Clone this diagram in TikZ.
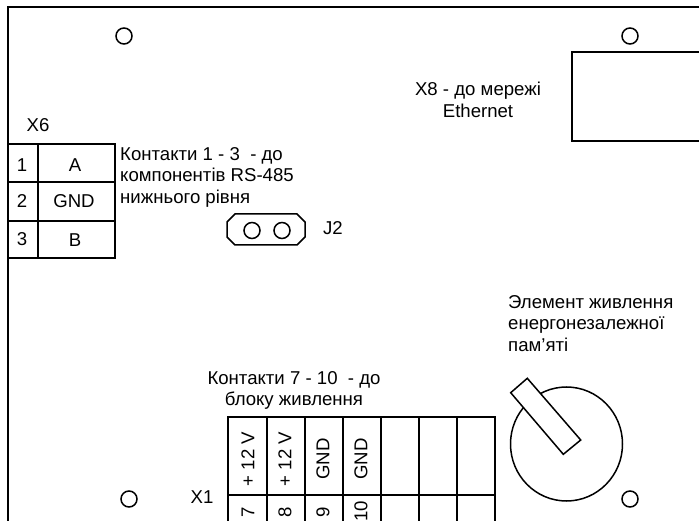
\documentclass[tikz,border=0pt]{standalone}
\usepackage{fontspec}
\setmainfont{Liberation Sans}
\tikzset{
  ln/.style={draw=black,line width=1.5pt},
  hole/.style={circle,draw=black,line width=1.5pt,minimum size=16pt,inner sep=0pt},
  lab/.style={inner sep=0pt,font=\fontsize{18.6}{21.5}\selectfont},
  lablft/.style={lab,align=left,anchor=north west},
  labc/.style={lab,align=center,anchor=north},
  rot/.style={lab,rotate=90},
}
\begin{document}
\begin{tikzpicture}[x=1pt,y=-1pt]
\useasboundingbox (0,0) rectangle (699,521);
% board outline
\coordinate (bl) at (8,521);
\coordinate (tl) at (8,7);
\coordinate (tr) at (699,7);
\draw[ln] (bl) -- (tl) -- (tr);
% mounting holes
\node[hole] (h1) at (124,36) {};
\node[hole] (h2) at (630,36) {};
\node[hole] (h3) at (129,499) {};
\node[hole] (h4) at (630,499) {};
% X8
\draw[ln] (699,52) -- (572,52) -- (572,141) -- (699,141);
\node[labc] (x8) at (478,82) {X8 - до мережі\\Ethernet};
% X6
\node[lab] (x6l) at (38,125) {X6};
\draw[ln] (8,144) rectangle (115,258);
\draw[ln] (38,144) -- (38,258);
\draw[ln] (8,182) -- (115,182);
\draw[ln] (8,221) -- (115,221);
\node[lab] (n1) at (22,165) {1};
\node[lab] (n2) at (22,201) {2};
\node[lab] (n3) at (22,239) {3};
\node[lab] (na) at (75,165) {A};
\node[lab] (ng) at (74,201) {GND};
\node[lab] (nb) at (75,240) {B};
\node[lablft] (c13) at (120,147) {Контакти 1 - 3 \ - до\\компонентів RS-485\\нижнього рівня};
% J2
\draw[ln] (235,214) -- (297,214) -- (305,222) -- (305,237) -- (297,245) -- (235,245) -- (227,237) -- (227,222) -- cycle;
\node[hole] (j1) at (252,230.5) {};
\node[hole] (j2) at (282,230.5) {};
\node[lab] (j2l) at (333,228) {J2};
% Battery
\node[lablft] (bat) at (508,295) {Элемент живлення\\енергонезалежної\\пам’яті};
\draw[ln] (566.5,444) circle[x radius=56,y radius=57];
\draw[ln,fill=white] (527.3,378.3) -- (510.7,392.7) -- (563.3,454.3) -- (580.7,440) -- cycle;
% X1
\node[labc] (c710) at (294,371) {Контакти 7 - 10 \ - до\\блоку живлення};
\node[lab] (x1l) at (202,497) {X1};
\draw[ln] (228,521) -- (228,417) -- (495,417) -- (495,521);
\draw[ln] (228,495) -- (495,495);
\draw[ln] (267,417) -- (267,521);
\draw[ln] (305,417) -- (305,521);
\draw[ln] (343,417) -- (343,521);
\draw[ln] (381,417) -- (381,521);
\draw[ln] (419,417) -- (419,521);
\draw[ln] (457,417) -- (457,521);
\node[rot] (v1) at (248,459) {+ 12 V};
\node[rot] (v2) at (285,459) {+ 12 V};
\node[rot] (g1) at (323,459) {GND};
\node[rot] (g2) at (361,459) {GND};
\node[rot] (p7) at (248,512) {7};
\node[rot] (p8) at (285,512) {8};
\node[rot] (p9) at (323,512) {9};
\node[rot] (p10) at (361,511) {10};
\end{tikzpicture}
\end{document}
